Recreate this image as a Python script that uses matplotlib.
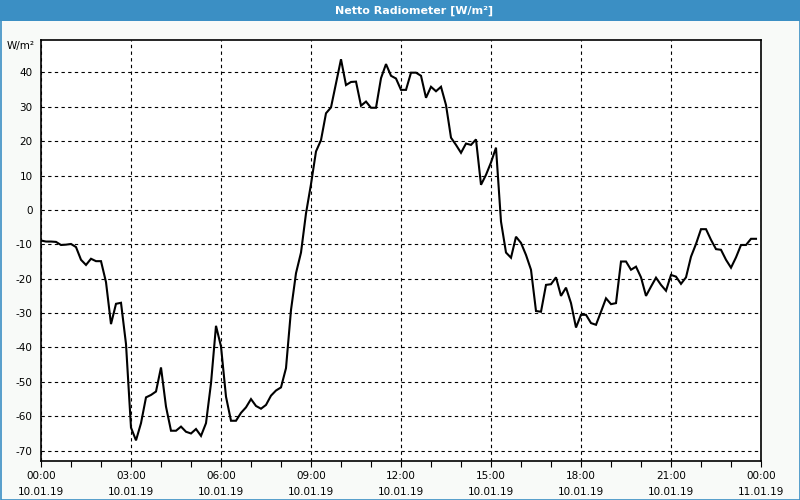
import matplotlib
matplotlib.use("Agg")
import matplotlib.pyplot as plt
from matplotlib.patches import Rectangle

title = "Netto Radiometer [W/m²]"
unit_label = "W/m²"

# time in minutes after 10.01.19 00:00
minutes = [0, 10, 20, 30, 40, 50, 60, 70, 80, 90, 100, 110, 120, 130, 140, 150, 160, 170,
           180, 190, 200, 210, 220, 230, 240, 250, 260, 270, 280, 290, 300, 310, 320, 330,
           340, 350, 360, 370, 380, 390, 400, 410, 420, 430, 440, 450, 460, 470, 480, 490,
           500, 510, 520, 530, 540, 550, 560, 570, 580, 600, 610, 620, 630, 640, 650, 660,
           670, 680, 690, 700, 710, 720, 730, 740, 750, 760, 770, 780, 790, 800, 810, 820,
           830, 840, 850, 860, 870, 880, 890, 900, 910, 920, 930, 940, 950, 960, 970, 980,
           990, 1000, 1010, 1020, 1030, 1040, 1050, 1060, 1070, 1080, 1090, 1100, 1110, 1120,
           1130, 1140, 1150, 1160, 1170, 1180, 1190, 1200, 1210, 1220, 1230, 1240, 1250, 1260,
           1270, 1280, 1290, 1300, 1310, 1320, 1330, 1340, 1350, 1360, 1370, 1380, 1390, 1400,
           1410, 1420, 1430]
values = [-8.9, -9.2, -9.2, -9.3, -10.2, -10.1, -9.9, -10.8, -14.5, -16.0, -14.2, -14.9, -14.9,
          -21.0, -33.2, -27.3, -27.0, -39.0, -63.3, -67.0, -62.0, -54.5, -53.8, -52.8, -45.8,
          -57.2, -64.2, -64.2, -63.0, -64.5, -65.0, -63.7, -65.7, -62.0, -50.4, -33.7, -39.7,
          -54.3, -61.3, -61.3, -59.0, -57.4, -55.0, -57.0, -57.8, -56.7, -54.0, -52.5, -51.6,
          -46.0, -29.1, -18.4, -12.4, -1.0, 7.5, 17.0, 20.3, 28.1, 29.8, 43.8, 36.3, 37.2,
          37.3, 30.3, 31.5, 29.7, 29.7, 38.3, 42.4, 39.0, 38.2, 34.9, 34.9, 39.9, 39.9, 39.0,
          32.6, 35.8, 34.5, 35.8, 30.5, 21.0, 18.9, 16.6, 19.3, 18.9, 20.5, 7.3, 10.2, 13.8,
          18.1, -3.4, -12.4, -13.9, -7.8, -9.6, -13.1, -17.4, -29.4, -29.6, -21.8, -21.6,
          -19.6, -25.0, -22.6, -27.1, -34.2, -30.5, -30.5, -32.9, -33.4, -29.6, -25.7, -27.4,
          -27.1, -15.0, -15.0, -17.4, -16.5, -19.6, -25.0, -22.3, -19.7, -21.8, -23.5, -18.9,
          -19.4, -21.5, -19.6, -13.6, -9.9, -5.6, -5.6, -8.7, -11.4, -11.6, -14.5, -16.8,
          -13.8, -10.2, -10.2, -8.4, -8.4]

major_ticks = [0, 180, 360, 540, 720, 900, 1080, 1260, 1440]
major_labels = ["00:00\n10.01.19", "03:00\n10.01.19", "06:00\n10.01.19", "09:00\n10.01.19",
                "12:00\n10.01.19", "15:00\n10.01.19", "18:00\n10.01.19", "21:00\n10.01.19",
                "00:00\n11.01.19"]
minor_ticks = list(range(0, 1441, 60))
y_ticks = [-70, -60, -50, -40, -30, -20, -10, 0, 10, 20, 30, 40]

plt.rcParams['font.family'] = ['DejaVu Sans']
bg = '#f8faf8'
blue = '#3b8fc4'

fig = plt.figure(figsize=(8, 5), dpi=100, facecolor=bg)

# title bar
fig.patches.append(Rectangle((0, 1 - 21 / 500), 1, 21 / 500, transform=fig.transFigure,
                             facecolor=blue, edgecolor='none', zorder=0))
# outer border
fig.patches.append(Rectangle((0.5 / 800, 0.5 / 500), 1 - 1 / 800, 1 - 1 / 500,
                             transform=fig.transFigure, facecolor='none',
                             edgecolor=blue, linewidth=1.2, zorder=5))
fig.text(414 / 800, 1 - 10.5 / 500, title, ha='center', va='center', color='white',
         fontsize=8, fontweight='bold')

ax = fig.add_axes([41 / 800, 39 / 500, 720 / 800, 421 / 500])
ax.set_facecolor('white')
ax.plot(minutes, values, color='black', linewidth=1.5, solid_joinstyle='miter', zorder=3)

ax.set_xlim(0, 1440)
ax.set_ylim(-73.0, 49.4)
ax.set_yticks(y_ticks)
ax.set_yticklabels([str(v) for v in y_ticks])
ax.set_xticks(major_ticks)
ax.set_xticklabels(major_labels, linespacing=1.75)
ax.set_xticks(minor_ticks, minor=True)

ax.tick_params(axis='y', length=0, pad=6, labelsize=7.5, colors='black')
ax.tick_params(axis='x', which='both', direction='out', length=4, width=0.8,
               pad=3, labelsize=7.5)

ax.grid(True, which='major', color='black', linestyle=(0, (3, 3)), linewidth=0.8)
for s in ax.spines.values():
    s.set_linewidth(1.2)
    s.set_color('black')

fig.text(35 / 800, 1 - 46 / 500, unit_label, ha='right', va='center', fontsize=7.5)

fig.savefig('out.png', dpi=100, facecolor=bg)
